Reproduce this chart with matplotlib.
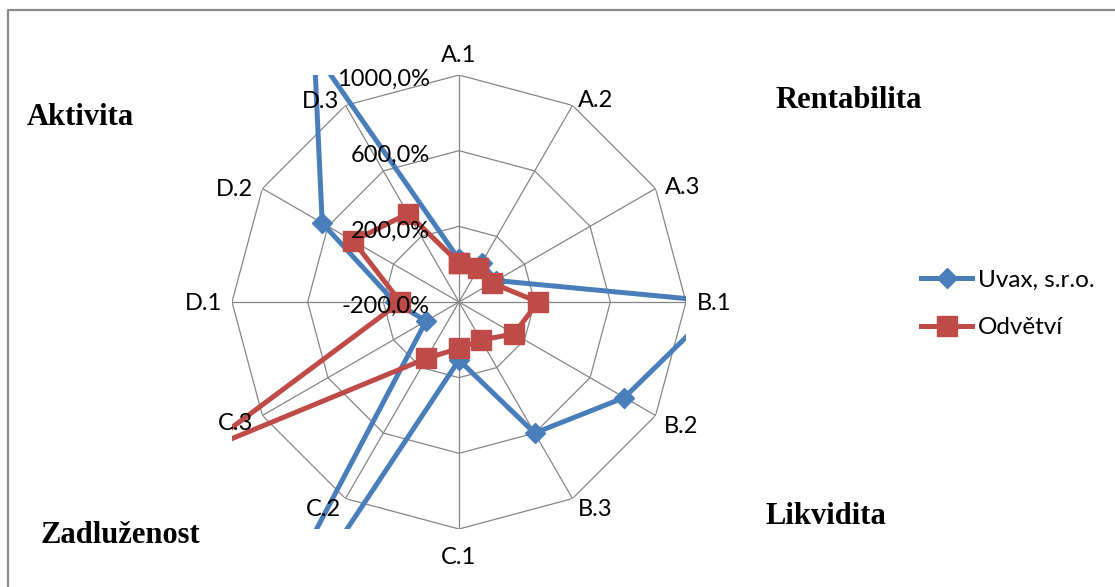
import numpy as np
import matplotlib
matplotlib.use("Agg")
import matplotlib.pyplot as plt
from matplotlib.lines import Line2D

plt.rcParams["font.family"] = ["Lato", "DejaVu Sans"]

categories = ["A.1", "A.2", "A.3", "B.1", "B.2", "B.3",
              "C.1", "C.2", "C.3", "D.1", "D.2", "D.3"]
uvax = [25, 38, 27, 1190, 810, 600, 107, 2550, 1, 140, 635, 1330]
odvetvi = [6, 5, 1, 218, 136, 33, 45, 144, 1390, 110, 445, 340]
series_names = ["Uvax, s.r.o.", "Odvětví"]
r_ticks = [-200, 200, 600, 1000]
r_tick_labels = ["-200,0%", "200,0%", "600,0%", "1000,0%"]
section_names = ["Aktivita", "Rentabilita", "Likvidita", "Zadluženost"]

W, H = 1115, 587
fig = plt.figure(figsize=(W / 100, H / 100), dpi=100)
cx, cy, R = 459, 302, 227
ax = fig.add_axes([(cx - R) / W, (H - cy - R) / H, 2 * R / W, 2 * R / H],
                  projection="polar")
ax.set_theta_zero_location("N")
ax.set_theta_direction(-1)
ax.grid(False)
ax.set_xticks([])
ax.set_yticks([])
ax.set_ylim(-200, 1000)
ax.spines["polar"].set_visible(False)
ax.patch.set_facecolor("none")

n = len(categories)
theta = np.arange(n) * 2 * np.pi / n
theta_c = np.append(theta, theta[0])

grid_c = "#868686"
for t in theta:
    ax.plot([t, t], [r_ticks[0], r_ticks[-1]], color=grid_c, lw=0.9, zorder=1)
for r in r_ticks[1:]:
    ax.plot(theta_c, [r] * (n + 1), color=grid_c, lw=0.9, zorder=1)


def draw_series(vals, color, marker, ms, z):
    v = list(vals) + [vals[0]]
    ln, = ax.plot(theta_c, v, color=color, lw=3.6, marker=marker, ms=ms,
                  markeredgecolor=color, zorder=z)
    # Excel clips to the square plot area, not the circle
    ln.set_clip_path(None)
    ln.set_clip_box(ax.bbox)
    return ln


l1 = draw_series(uvax, "#4A7EBB", "D", 10.5, 3)
l2 = draw_series(odvetvi, "#BE4B48", "s", 14, 4)

# label offsets from the outer vertex, in pixels (x right, y up)
label_off = [(0, 22), (5, 7), (9, 3), (11, 0), (8, -9), (5, -9),
             (0, -26), (-5, -9), (-9, -6), (-10, 0), (-9, 1), (-6, 6)]
for t, lab, (dx, dy) in zip(theta, categories, label_off):
    s = np.sin(t)
    ha = "left" if s > 0.1 else ("right" if s < -0.1 else "center")
    ax.annotate(lab, xy=(t, 1000), xytext=(dx * 0.72, dy * 0.72),
                textcoords="offset points", ha=ha, va="center_baseline",
                fontsize=17, annotation_clip=False, zorder=6)

for r, lab in zip(r_ticks, r_tick_labels):
    ax.annotate(lab, xy=(0, r), xytext=(-21, -2), textcoords="offset points",
                ha="right", va="center_baseline", fontsize=17,
                annotation_clip=False, zorder=6)

fig.legend(handles=[l1, l2], labels=series_names, loc="center left",
           bbox_to_anchor=(921 / W, 1 - 304 / H), frameon=False,
           fontsize=17.5, handlelength=2.1, handletextpad=0.25,
           labelspacing=1.1, borderpad=0, borderaxespad=0)

sec_pos = [(27, 125), (775, 108), (766, 524), (40, 543)]
for name, (x, y) in zip(section_names, sec_pos):
    fig.text(x / W, 1 - y / H, name, family="Liberation Serif",
             weight="bold", fontsize=22, va="baseline", ha="left")

fig.add_artist(Line2D([8 / W, 8 / W, 1.0], [0, 1 - 10 / H, 1 - 10 / H],
                      transform=fig.transFigure, color="#8C8C8C", lw=1.6))

fig.savefig("out.png", dpi=100)
